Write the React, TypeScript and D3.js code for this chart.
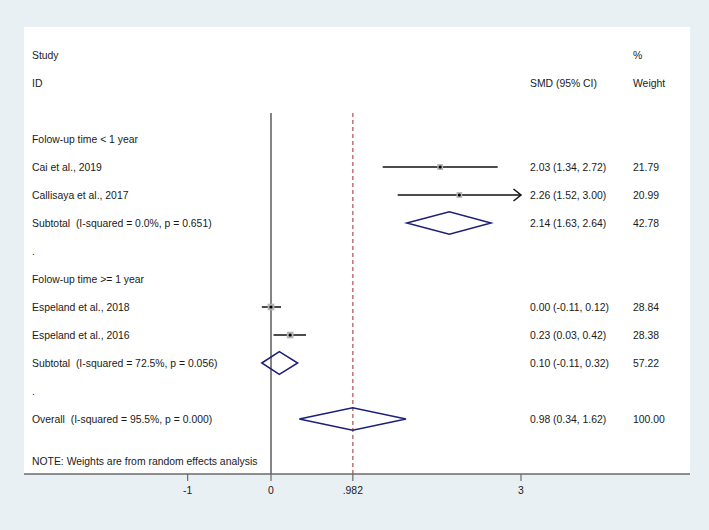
import React from "react";
import * as d3 from "d3";

const rowLabels = [
  "Folow-up time < 1 year",
  "Cai et al., 2019",
  "Callisaya et al., 2017",
  "Subtotal  (I-squared = 0.0%, p = 0.651)",
  ".",
  "Folow-up time >= 1 year",
  "Espeland et al., 2018",
  "Espeland et al., 2016",
  "Subtotal  (I-squared = 72.5%, p = 0.056)",
  ".",
  "Overall  (I-squared = 95.5%, p = 0.000)",
];
const rowTypes = ["group", "study", "study", "pooled", "blank", "group", "study", "study", "pooled", "blank", "pooled"];
const smd: (number | null)[] = [null, 2.03, 2.26, 2.14, null, null, 0.0, 0.23, 0.1, null, 0.98];
const lower: (number | null)[] = [null, 1.34, 1.52, 1.63, null, null, -0.11, 0.03, -0.11, null, 0.34];
const upper: (number | null)[] = [null, 2.72, 3.0, 2.64, null, null, 0.12, 0.42, 0.32, null, 1.62];
const ciText = ["", "2.03 (1.34, 2.72)", "2.26 (1.52, 3.00)", "2.14 (1.63, 2.64)", "", "", "0.00 (-0.11, 0.12)", "0.23 (0.03, 0.42)", "0.10 (-0.11, 0.32)", "", "0.98 (0.34, 1.62)"];
const weightText = ["", "21.79", "20.99", "42.78", "", "", "28.84", "28.38", "57.22", "", "100.00"];
const weights: (number | null)[] = [null, 21.79, 20.99, 42.78, null, null, 28.84, 28.38, 57.22, null, 100.0];
const tickValues = [-1, 0, 0.982, 3];
const tickLabels = ["-1", "0", ".982", "3"];
const overallEffect = 0.982;
const noteText = "NOTE: Weights are from random effects analysis";

const W = 709;
const H = 530;
const FONT = "'Liberation Sans', Arial, sans-serif";
const FS = 10.4;
const TXT = "#1a1a1a";

export default function App() {
  const x = d3.scaleLinear().domain([0, 3]).range([271, 521]);
  const y = d3
    .scaleLinear()
    .domain([0, rowLabels.length - 1])
    .range([139, 139 + 28 * (rowLabels.length - 1)]);
  const axisY = 474;
  const lineTop = 113;
  const xMax = 3;

  return (
    <svg
      width={W}
      height={H}
      style={{ position: "absolute", left: 0, top: 0, fontFamily: FONT }}
    >
      <rect x={0} y={0} width={W} height={H} fill="#e8f0f3" />
      <rect x={24} y={27} width={666} height={axisY - 27} fill="#ffffff" />

      {/* headers */}
      <g fontSize={FS} fill={TXT} dominantBaseline="central">
        <text x={32} y={55}>Study</text>
        <text x={633} y={55}>%</text>
        <text x={32} y={83}>ID</text>
        <text x={530} y={83}>SMD (95% CI)</text>
        <text x={633} y={83}>Weight</text>
      </g>

      {/* reference lines */}
      <line x1={x(0)} x2={x(0)} y1={lineTop} y2={axisY} stroke="#333" strokeWidth={1.2} />
      <line
        x1={x(overallEffect)}
        x2={x(overallEffect)}
        y1={lineTop}
        y2={axisY}
        stroke="#c07070"
        strokeWidth={1.5}
        strokeDasharray="4 3"
      />

      {/* rows */}
      {rowLabels.map((lab, i) => {
        const yy = y(i);
        const t = rowTypes[i];
        const els: React.ReactNode[] = [];
        els.push(
          <text key="l" x={32} y={yy} fontSize={FS} fill={TXT} dominantBaseline="central" style={{ whiteSpace: "pre" }}>
            {lab}
          </text>
        );
        if (ciText[i]) {
          els.push(
            <text key="c" x={530} y={yy} fontSize={FS} fill={TXT} dominantBaseline="central">
              {ciText[i]}
            </text>
          );
          els.push(
            <text key="w" x={633} y={yy} fontSize={FS} fill={TXT} dominantBaseline="central">
              {weightText[i]}
            </text>
          );
        }
        if (t === "study") {
          const lo = lower[i] as number;
          const hi = Math.min(upper[i] as number, xMax);
          const m = smd[i] as number;
          const s = 1.25 * Math.sqrt(weights[i] as number);
          els.push(<line key="ci" x1={x(lo)} x2={x(hi)} y1={yy} y2={yy} stroke="#111" strokeWidth={1.5} />);
          if ((upper[i] as number) >= xMax) {
            els.push(
              <path
                key="ar"
                d={`M${x(xMax) - 7.5},${yy - 6}L${x(xMax)},${yy}L${x(xMax) - 7.5},${yy + 6}`}
                fill="none"
                stroke="#111"
                strokeWidth={1.5}
              />
            );
          }
          els.push(<rect key="b" x={x(m) - s / 2} y={yy - s / 2} width={s} height={s} fill="#b4b4b4" />);
          els.push(<circle key="d" cx={x(m)} cy={yy} r={1.6} fill="#000" />);
        }
        if (t === "pooled") {
          const lo = x(lower[i] as number);
          const hi = x(upper[i] as number);
          const m = x(smd[i] as number);
          const hh = 11.3;
          els.push(
            <path
              key="dm"
              d={`M${lo},${yy}L${m},${yy - hh}L${hi},${yy}L${m},${yy + hh}Z`}
              fill="none"
              stroke="#1c1f78"
              strokeWidth={1.5}
            />
          );
        }
        return <g key={i}>{els}</g>;
      })}

      <text x={32} y={461} fontSize={FS} fill={TXT} dominantBaseline="central">
        {noteText}
      </text>

      {/* axis */}
      <line x1={24} x2={690} y1={axisY} y2={axisY} stroke="#6a6a6a" strokeWidth={1.6} />
      {tickValues.map((v, i) => (
        <g key={i}>
          <line x1={x(v)} x2={x(v)} y1={axisY} y2={axisY + 7} stroke="#6a6a6a" strokeWidth={1.2} />
          <text x={x(v)} y={490} fontSize={FS} fill={TXT} textAnchor="middle" dominantBaseline="central">
            {tickLabels[i]}
          </text>
        </g>
      ))}
    </svg>
  );
}
